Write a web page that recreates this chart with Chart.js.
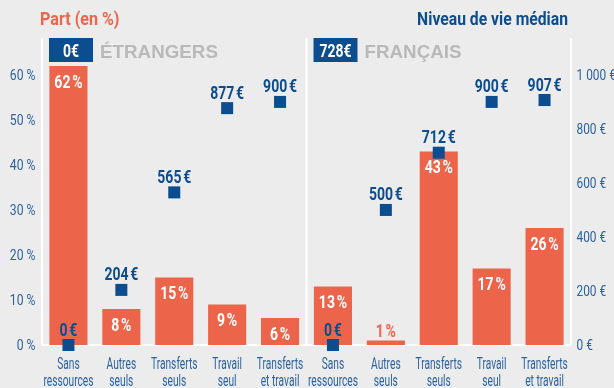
<!DOCTYPE html>
<html lang="fr">
<head>
<meta charset="utf-8">
<script src="https://cdn.jsdelivr.net/npm/chart.js@4.4.1/dist/chart.umd.min.js"></script>
<style>
  body { margin: 0; background: #ececec; }
  #wrap { width: 614px; height: 388px; position: relative; }
</style>
</head>
<body>
<div id="wrap"><canvas id="chart"></canvas></div>
<script>
// Données : part des ménages (%) et niveau de vie médian (€) par type de ressources
const groups = ['ÉTRANGERS', 'FRANÇAIS'];
const groupMedian = [0, 728];
const categories = [
  ['Sans', 'ressources'], ['Autres', 'seuls'], ['Transferts', 'seuls'],
  ['Travail', 'seul'], ['Transferts', 'et travail']
];
const partEtrangers = [62, 8, 15, 9, 6];
const partFrancais = [13, 1, 43, 17, 26];
const niveauEtrangers = [0, 204, 565, 877, 900];
const niveauFrancais = [0, 500, 712, 900, 907];
const partTicks = [0, 10, 20, 30, 40, 50, 60];
const niveauTicks = [0, 200, 400, 600, 800, 1000];

const ORANGE = '#ec644a';
const BLUE = '#0b4d8e';
const TICK_BLUE = '#2b62a0';
const SANS = 'Roboto, "DejaVu Sans", sans-serif';
const NBSP = '\u202F';

// both axes share the same pixel range: 60 % <-> 1 000 €
const partMax = 68.2;
const niveauMax = partMax / 60 * 1000;

const labels = categories.concat(categories);
const parts = partEtrangers.concat(partFrancais);
const niveaux = niveauEtrangers.concat(niveauFrancais);

const fmtThousands = v => String(v).replace(/\B(?=(\d{3})+(?!\d))/g, ' ');

// text squeezed horizontally to get a condensed face out of Roboto
function narrowText(ctx, text, x, y, font, color, align, sx) {
  ctx.save();
  ctx.font = font;
  ctx.fillStyle = color;
  ctx.textAlign = align;
  ctx.textBaseline = 'alphabetic';
  ctx.translate(x, y);
  ctx.scale(sx, 1);
  ctx.fillText(text, 0, 0);
  ctx.restore();
}

// white frame lines, group headers, titles and axis labels
const decorations = {
  id: 'decorations',
  beforeDatasetsDraw(chart) {
    const { ctx, chartArea: a, scales: { x, y, y2 } } = chart;
    const mid = x.getPixelForValue(4.5);
    ctx.save();
    ctx.strokeStyle = '#ffffff';
    ctx.lineWidth = 2;
    ctx.beginPath();
    [a.left, mid, a.right].forEach(px => {
      ctx.moveTo(px, a.top);
      ctx.lineTo(px, a.bottom);
    });
    ctx.moveTo(a.left, a.bottom);
    ctx.lineTo(a.right, a.bottom);
    ctx.stroke();
    ctx.restore();

    // group headers
    [a.left, mid].forEach((px, i) => {
      const bx = px + 7, by = a.top;
      ctx.fillStyle = BLUE;
      ctx.fillRect(bx, by, 44, 24);
      narrowText(ctx, fmtThousands(groupMedian[i]) + '€', bx + 22, by + 18.5,
        'bold 17.5px ' + SANS, '#ffffff', 'center', 0.8);
      narrowText(ctx, groups[i], bx + 51, by + 19.5,
        'bold 18.8px "Liberation Sans", Arial, sans-serif', '#b9b9b9', 'left', 1);
    });

    // axis titles
    narrowText(ctx, 'Part (en %)', 40, 25, 'bold 18.5px ' + SANS, ORANGE, 'left', 0.87);
    narrowText(ctx, 'Niveau de vie médian', 568, 25, 'bold 18.5px ' + SANS, BLUE, 'right', 0.85);

    // tick labels
    partTicks.forEach(v => {
      narrowText(ctx, v + ' %', 35.5, y.getPixelForValue(v) + 5.3,
        '14.5px ' + SANS, TICK_BLUE, 'right', 0.84);
    });
    niveauTicks.forEach(v => {
      narrowText(ctx, fmtThousands(v) + ' €', 576.5, y2.getPixelForValue(v) + 5,
        '14.5px ' + SANS, TICK_BLUE, 'left', 0.82);
    });
    labels.forEach((lines, i) => {
      const px = x.getPixelForValue(i);
      lines.forEach((line, j) => {
        narrowText(ctx, line, px, a.bottom + 23.5 + j * 17.5,
          '17px ' + SANS, TICK_BLUE, 'center', 0.6);
      });
    });
  }
};

// value labels on bars and euro markers
const valueLabels = {
  id: 'valueLabels',
  afterDatasetsDraw(chart) {
    const { ctx } = chart;
    const font = 'bold 17.5px ' + SANS;
    chart.getDatasetMeta(0).data.forEach((bar, i) => {
      const text = parts[i] + NBSP + '%';
      if (bar.base - bar.y > 26) {
        narrowText(ctx, text, bar.x, bar.y + 22, font, '#ffffff', 'center', 0.8);
      } else {
        narrowText(ctx, text, bar.x, bar.y - 3, font, ORANGE, 'center', 0.8);
      }
    });
    chart.getDatasetMeta(1).data.forEach((pt, i) => {
      const text = fmtThousands(niveaux[i]) + NBSP + '€';
      narrowText(ctx, text, pt.x, pt.y - 9.5, font, BLUE, 'center', 0.8);
    });
  }
};

new Chart(document.getElementById('chart'), {
  data: {
    labels: labels,
    datasets: [{
      type: 'bar',
      data: parts,
      yAxisID: 'y',
      backgroundColor: ORANGE,
      barPercentage: 0.72,
      categoryPercentage: 1,
      order: 1
    }, {
      type: 'line',
      data: niveaux,
      yAxisID: 'y2',
      showLine: false,
      pointStyle: 'rect',
      pointRadius: 8.5,
      pointBackgroundColor: BLUE,
      pointBorderWidth: 0,
      clip: false,
      order: 0
    }]
  },
  options: {
    responsive: true,
    maintainAspectRatio: false,
    animation: false,
    layout: { padding: { top: 38 } },
    plugins: {
      legend: { display: false },
      tooltip: { enabled: false }
    },
    scales: {
      x: {
        grid: { display: false },
        border: { display: false },
        ticks: { display: false },
        afterFit: s => { s.height = 43; }
      },
      y: {
        position: 'left',
        min: 0,
        max: partMax,
        grid: { display: false },
        border: { display: false },
        ticks: { display: false },
        afterFit: s => { s.width = 42; }
      },
      y2: {
        position: 'right',
        min: 0,
        max: niveauMax,
        grid: { display: false },
        border: { display: false },
        ticks: { display: false },
        afterFit: s => { s.width = 43; }
      }
    }
  },
  plugins: [decorations, valueLabels]
});
</script>
</body>
</html>
